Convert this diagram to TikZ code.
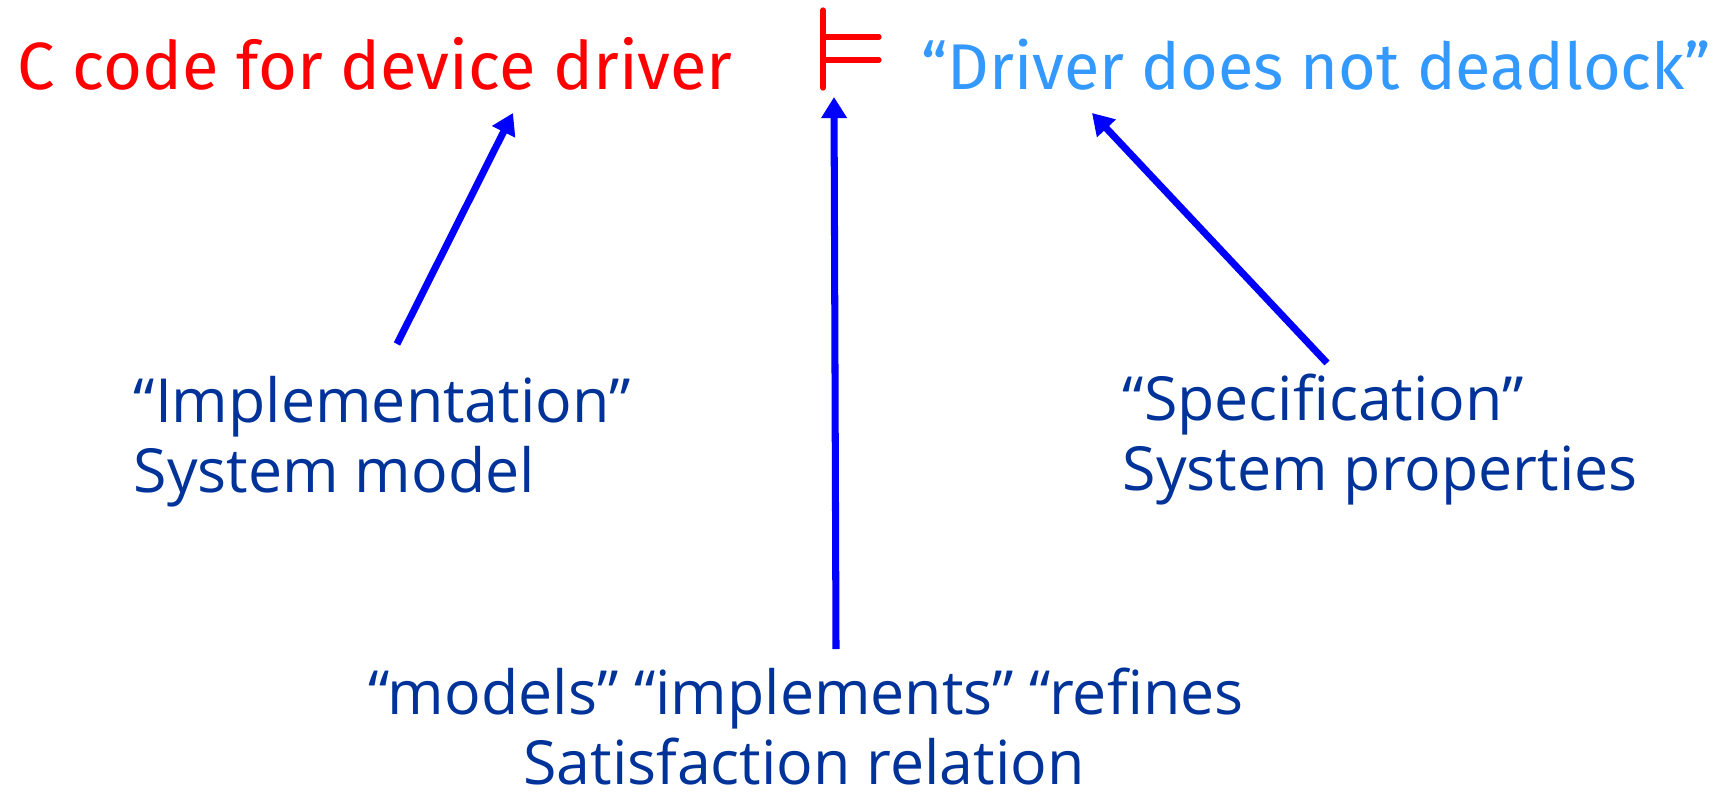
\documentclass[tikz,border=0pt]{standalone}
\usepackage{fontspec}
\setmainfont{Open Sans}
\newfontfamily\handfont{Fira Sans}
\usetikzlibrary{arrows.meta,positioning}

\definecolor{codered}{RGB}{255,0,0}
\definecolor{propblue}{RGB}{51,153,255}
\definecolor{noteblue}{RGB}{0,51,153}
\definecolor{arrowblue}{RGB}{0,0,255}

\newcommand\lineGap{70}

\tikzset{
  handtext/.style={font=\handfont\fontsize{19}{23}\selectfont, inner sep=0pt},
  notetext/.style={font=\fontsize{17.3}{20}\selectfont, text=noteblue, inner sep=0pt},
  pointer/.style={draw=arrowblue, line width=2pt, -{Triangle[length=6pt,width=7pt]}},
  turnstile/.style={draw=codered, line width=1.5pt, line cap=round}
}

\begin{document}
\begin{tikzpicture}[x=0.01cm, y=-0.01cm]
    \useasboundingbox (0,0) rectangle (1731,794);

    % top line: program |= property
    \node[handtext, text=codered, anchor=base west] (code) at (17,90) {C code for device driver};
    \node[handtext, font=\handfont\fontsize{18.4}{22}\selectfont, text=propblue, anchor=base west] (prop) at (921,90) {“Driver does not deadlock”};
    \draw[turnstile] (823,10) -- (823,88);
    \draw[turnstile] (823,37) -- (879,37);
    \draw[turnstile] (823,60) -- (879,60);

    % notes
    \node[notetext, anchor=base west] (impltitle) at (133,422) {“Implementation”};
    \node[notetext, anchor=base west] (implsub) at (133,422+\lineGap) {System model};

    \node[notetext, anchor=base west] (spectitle) at (1122,420) {“Specification”};
    \node[notetext, anchor=base west] (specsub) at (1122,420+\lineGap) {System properties};

    \node[notetext, anchor=base] (sattitle) at (806,714) {“models” “implements” “refines};
    \node[notetext, anchor=base] (satsub) at (804,714+\lineGap) {Satisfaction relation};

    % pointers from the notes up to the formula
    \coordinate (implfoot) at (397,344);
    \coordinate (implhead) at (513,113);
    \coordinate (specfoot) at (1327,363);
    \coordinate (spechead) at (1092,113);
    \coordinate (satfoot) at (836,649);
    \coordinate (sathead) at (834,97);

    \draw[pointer] (implfoot) -- (implhead);
    \draw[pointer] (specfoot) -- (spechead);
    \draw[pointer] (satfoot) -- (sathead);
\end{tikzpicture}
\end{document}
